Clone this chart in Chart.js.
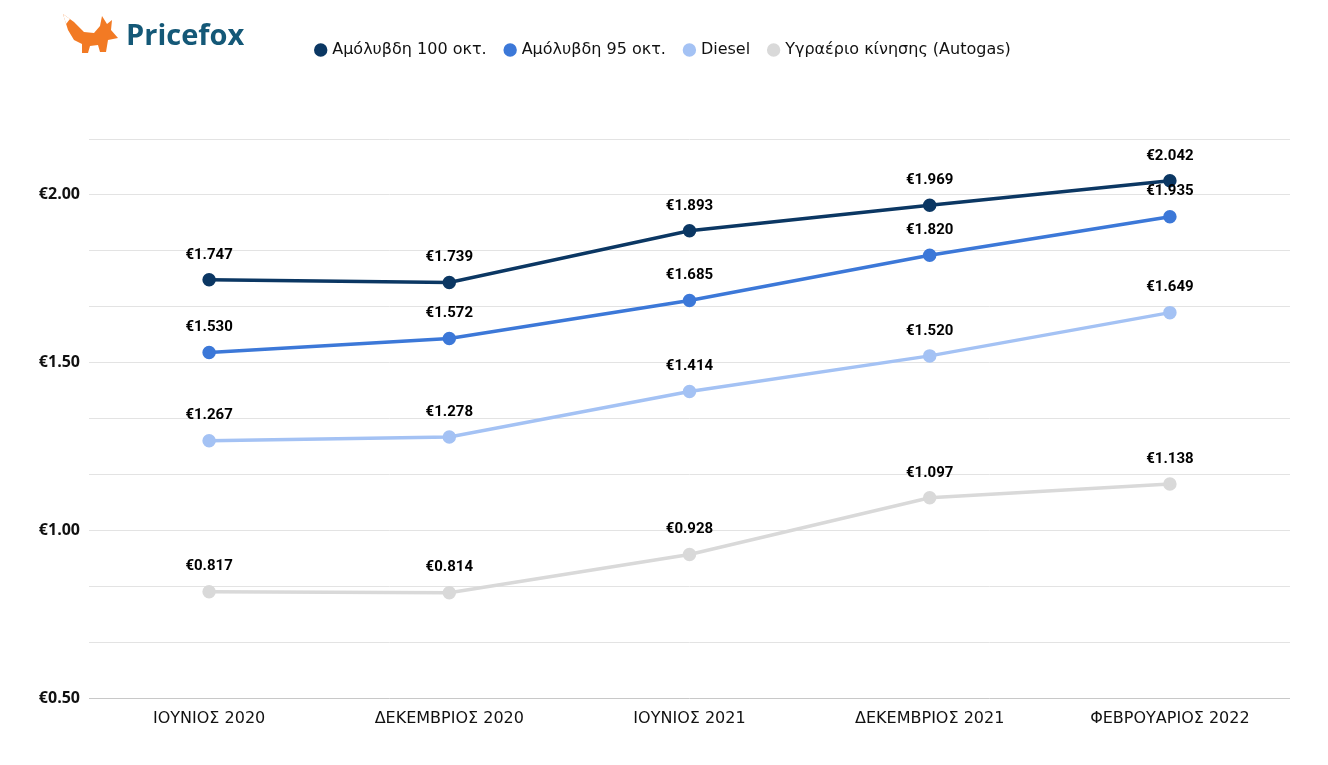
<!DOCTYPE html>
<html>
<head>
<meta charset="utf-8">
<script src="https://cdn.jsdelivr.net/npm/chart.js@4"></script>
<style>
html,body{margin:0;padding:0;background:#fff;}
#wrap{width:1328px;height:765px;position:relative;}
</style>
</head>
<body>
<div id="wrap"><canvas id="c" width="1328" height="765"></canvas></div>
<script>
const categories = ['ΙΟΥΝΙΟΣ 2020','ΔΕΚΕΜΒΡΙΟΣ 2020','ΙΟΥΝΙΟΣ 2021','ΔΕΚΕΜΒΡΙΟΣ 2021','ΦΕΒΡΟΥΑΡΙΟΣ 2022'];
const unleaded100 = [1.747, 1.739, 1.893, 1.969, 2.042];
const unleaded95 = [1.530, 1.572, 1.685, 1.820, 1.935];
const diesel = [1.267, 1.278, 1.414, 1.520, 1.649];
const autogas = [0.817, 0.814, 0.928, 1.097, 1.138];
const seriesNames = ['Αμόλυβδη 100 οκτ.','Αμόλυβδη 95 οκτ.','Diesel','Υγραέριο κίνησης (Autogas)'];
const yMin = 0.5, yMax = 13/6, yStep = 1/6;

const colors = ['#0b3763','#3c78d8','#a4c2f4','#d9d9d9'];
const seriesData = [unleaded100, unleaded95, diesel, autogas];

const legendSpacer = {
  id:'legendSpacer',
  beforeInit(chart){
    const orig = chart.legend.fit;
    chart.legend.fit = function(){ orig.bind(chart.legend)(); this.height = 117; };
  }
};

const valueLabels = {
  id:'valueLabels',
  afterDatasetsDraw(chart){
    const ctx = chart.ctx;
    ctx.save();
    ctx.font = 'bold 15px Roboto';
    ctx.fillStyle = '#000';
    ctx.textAlign = 'center';
    ctx.textBaseline = 'middle';
    chart.data.datasets.forEach((ds, i) => {
      const meta = chart.getDatasetMeta(i);
      meta.data.forEach((pt, j) => {
        ctx.fillText('€' + ds.data[j].toFixed(3), pt.x, pt.y - 25);
      });
    });
    ctx.restore();
  }
};

const logo = {
  id:'logo',
  afterDraw(chart){
    const ctx = chart.ctx;
    ctx.save();
    ctx.fillStyle = '#f27a24';
    ctx.beginPath();
    ctx.moveTo(63,14); ctx.lineTo(74,22); ctx.lineTo(84,32); ctx.lineTo(94,33);
    ctx.lineTo(100,26); ctx.lineTo(102,16); ctx.lineTo(107,24); ctx.lineTo(112,20);
    ctx.lineTo(111,30); ctx.lineTo(118,38); ctx.lineTo(108,40); ctx.lineTo(106,52);
    ctx.lineTo(100,52); ctx.lineTo(98,45); ctx.lineTo(90,46); ctx.lineTo(88,53);
    ctx.lineTo(82,53); ctx.lineTo(82,44); ctx.lineTo(74,40); ctx.lineTo(68,30);
    ctx.closePath();
    ctx.fill();
    ctx.fillStyle = '#fff';
    ctx.beginPath();
    ctx.moveTo(63,14); ctx.lineTo(70,19); ctx.lineTo(66,24); ctx.closePath();
    ctx.fill();
    ctx.fillStyle = '#145877';
    ctx.font = 'bold 29px "Open Sans"';
    ctx.textBaseline = 'middle';
    ctx.fillText('Pricefox', 126, 37);
    ctx.restore();
  }
};

new Chart(document.getElementById('c'), {
  type:'line',
  data:{
    labels: categories,
    datasets: seriesData.map((d,i)=>({
      label: seriesNames[i],
      data: d,
      borderColor: colors[i],
      backgroundColor: colors[i],
      pointBackgroundColor: colors[i],
      pointBorderColor: colors[i],
      pointRadius: 5,
      pointHoverRadius: 5,
      borderWidth: 3.5,
      tension: 0,
      fill: false
    })).reverse()
  },
  options:{
    responsive:false,
    animation:false,
    layout:{padding:{top:22,left:38,right:38,bottom:0}},
    plugins:{
      legend:{
        position:'top',
        reverse:true,
        labels:{
          usePointStyle:true,
          pointStyle:'circle',
          boxWidth:7,
          boxHeight:7,
          padding:20,
          color:'#111',
          font:{family:'"DejaVu Sans"',size:16}
        }
      },
      tooltip:{enabled:false}
    },
    scales:{
      x:{
        offset:true,
        grid:{display:false},
        border:{display:false},
        ticks:{color:'#111',font:{family:'"DejaVu Sans"',size:16},padding:3,maxRotation:0},
        afterFit(s){ s.height = 67; }
      },
      y:{
        min:yMin, max:yMax,
        grid:{color:(c)=> c.index===0 ? '#c8c8c8' : '#e3e3e3', lineWidth:1, drawTicks:false},
        border:{display:false},
        afterBuildTicks(s){
          const t=[]; for(let k=0;k<=10;k++) t.push({value: yMin + k*yStep}); s.ticks=t;
        },
        ticks:{
          color:'#111',
          padding:9,
          font:{family:'"Open Sans"',size:16,weight:'bold'},
          callback(v){ const d=v*2; return Math.abs(d-Math.round(d))<1e-6 ? '€'+v.toFixed(2) : ''; }
        },
        afterFit(s){ s.width = 51; }
      }
    }
  },
  plugins:[legendSpacer, valueLabels, logo]
});
</script>
</body>
</html>
